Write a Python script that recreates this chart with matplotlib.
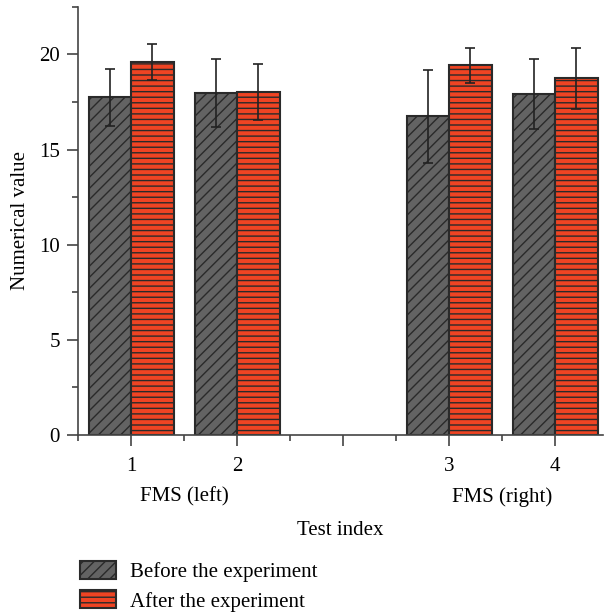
import matplotlib.pyplot as plt
from matplotlib.ticker import MultipleLocator
import numpy as np

# group positions on the x axis (position 3 is the empty gap)
positions = [1, 2, 4, 5]
tick_labels = ['1', '2', '', '3', '4']
group_labels = ['FMS (left)', 'FMS (right)']
group_centers = [1.5, 4.5]

before_mean = [17.75, 17.98, 16.75, 17.91]
before_err = [1.5, 1.78, 2.45, 1.82]
after_mean = [19.6, 18.02, 19.42, 18.75]
after_err = [0.95, 1.47, 0.93, 1.6]


def main():
    plt.rcParams['font.family'] = ['Liberation Serif', 'DejaVu Serif']
    plt.rcParams['font.size'] = 15
    plt.rcParams['hatch.linewidth'] = 1.0
    plt.rcParams['hatch.color'] = '#2a2a2a'

    fig = plt.figure(figsize=(6.06, 6.14), dpi=100)
    ax = fig.add_axes([0.129, 0.2915, 0.866, 0.6975])

    x = np.array(positions)
    w = 0.4
    err_kw = dict(ecolor='#222222', elinewidth=1.2, capsize=3.5, capthick=1.2)
    b1 = ax.bar(x - w / 2, before_mean, w, yerr=before_err, color='#636363',
                edgecolor='#2a2a2a', linewidth=1.5, hatch='///', error_kw=err_kw,
                label='Before the experiment')
    b2 = ax.bar(x + w / 2, after_mean, w, yerr=after_err, color='#ef4423',
                edgecolor='#2a2a2a', linewidth=1.5, hatch='---', error_kw=err_kw,
                label='After the experiment')

    ax.set_xlim(0.5, 5.45)
    ax.set_ylim(0, 22.5)
    ax.set_xticks([1, 2, 3, 4, 5])
    ax.set_xticklabels(tick_labels)
    ax.xaxis.set_minor_locator(plt.FixedLocator([0.5, 1.5, 2.5, 3.5, 4.5]))
    ax.yaxis.set_major_locator(MultipleLocator(5))
    ax.yaxis.set_minor_locator(MultipleLocator(2.5))
    ax.tick_params(which='major', length=8, width=1.2, color='#444444', pad=5)
    ax.tick_params(axis='x', which='major', pad=8)
    ax.tick_params(which='minor', length=4, width=1.2, color='#444444')

    for s in ['top', 'right']:
        ax.spines[s].set_visible(False)
    for s in ['left', 'bottom']:
        ax.spines[s].set_linewidth(1.2)
        ax.spines[s].set_color('#444444')

    for c, lab in zip(group_centers, group_labels):
        ax.text(c, -0.145, lab, transform=ax.get_xaxis_transform(),
                ha='center', va='center')
    ax.set_xlabel('Test index', labelpad=32)
    ax.set_ylabel('Numerical value', labelpad=7)

    fig.legend([b1, b2], ['Before the experiment', 'After the experiment'],
               loc='upper left', bbox_to_anchor=(0.118, 0.1), frameon=False,
               handlelength=1.75, handleheight=0.95, labelspacing=0.4,
               handletextpad=0.65, borderaxespad=0)

    fig.savefig('out.png', dpi=100)


if __name__ == '__main__':
    main()
